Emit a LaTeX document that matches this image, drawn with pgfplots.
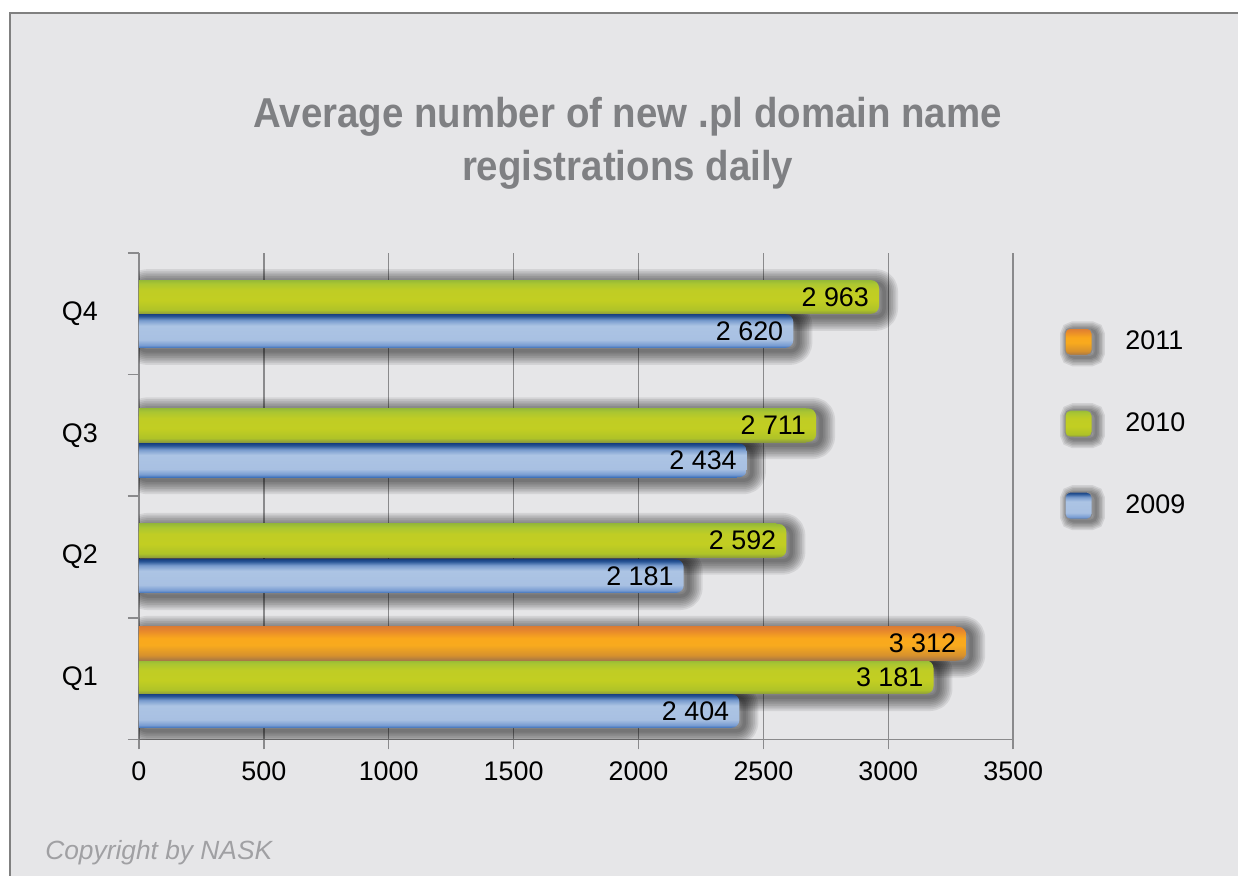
\documentclass[border=0pt]{standalone}
\usepackage{fontspec}
\setmainfont{Liberation Sans}
\usepackage{graphicx}
\usepackage{pgfplots}
\pgfplotsset{compat=1.18}
\usepackage{pgfplotstable}

\definecolor{bgc}{RGB}{230,230,232}
\definecolor{bordc}{RGB}{128,128,128}
\definecolor{titlec}{RGB}{127,128,131}
\definecolor{copyc}{RGB}{160,160,163}
\definecolor{gridc}{RGB}{138,138,140}
% blue (2009)
\definecolor{bA}{RGB}{60,112,185}
\definecolor{bB}{RGB}{120,156,210}
\definecolor{bC}{RGB}{168,192,226}
\definecolor{bD}{RGB}{172,196,228}
\definecolor{bE}{RGB}{120,155,205}
\definecolor{bF}{RGB}{40,85,150}
\definecolor{bG}{RGB}{25,65,130}
% green (2010)
\definecolor{gA}{RGB}{140,155,60}
\definecolor{gB}{RGB}{175,195,40}
\definecolor{gC}{RGB}{194,206,34}
\definecolor{gD}{RGB}{192,205,36}
\definecolor{gE}{RGB}{170,198,50}
\definecolor{gF}{RGB}{150,185,55}
% orange (2011)
\definecolor{oA}{RGB}{165,118,70}
\definecolor{oB}{RGB}{215,145,45}
\definecolor{oC}{RGB}{248,170,30}
\definecolor{oD}{RGB}{250,168,28}
\definecolor{oE}{RGB}{230,135,45}
\definecolor{oF}{RGB}{220,125,50}

\pgfdeclareverticalshading{shA}{100bp}{color(0bp)=(bA); color(25bp)=(bA); color(29bp)=(bB); color(37bp)=(bC); color(58bp)=(bD); color(66bp)=(bE); color(72bp)=(bF); color(75bp)=(bG); color(100bp)=(bG)}
\pgfdeclareverticalshading{shB}{100bp}{color(0bp)=(gA); color(25bp)=(gA); color(31bp)=(gB); color(45bp)=(gC); color(60bp)=(gD); color(70bp)=(gE); color(75bp)=(gF); color(100bp)=(gF)}
\pgfdeclareverticalshading{shC}{100bp}{color(0bp)=(oA); color(25bp)=(oA); color(33bp)=(oB); color(48bp)=(oC); color(58bp)=(oD); color(70bp)=(oE); color(75bp)=(oF); color(100bp)=(oF)}

\newcommand\lbl{\fontsize{15.3}{18}\selectfont}
\newcommand\titlefont{\fontsize{23.8}{28}\selectfont\bfseries}
\newcommand\copyfont{\fontsize{15}{18}\selectfont\itshape}

% 2009
\pgfplotstableread{
v y
2404 0.234
2181 1.342
2434 2.294
2620 3.357
}\tblA
% 2010
\pgfplotstableread{
v y
3181 0.512
2592 1.633
2711 2.583
2963 3.637
}\tblB
% 2011
\pgfplotstableread{
v y
3312 0.787
}\tblC

\tikzset{
  sstroke/.style={preaction={draw=black, draw opacity=0.09, line width=#1}},
  shadowstrokes/.style={rounded corners=0.1cm,
    sstroke=0.36cm, sstroke=0.30cm, sstroke=0.24cm, sstroke=0.18cm, sstroke=0.12cm,
    draw=black, draw opacity=0.09, line width=0.06cm},
}
\newcommand\legimg[1]{%
  \begin{pgfinterruptboundingbox}
    \path[shadowstrokes] (0.08cm,-0.31cm) rectangle (0.62cm,0.23cm);
  \end{pgfinterruptboundingbox}
  \path[draw=gridc, line width=0.02cm, rounded corners=0.1cm, shade, shading=#1] (0cm,-0.27cm) rectangle (0.54cm,0.27cm);}

\pgfplotsset{
  barbase/.style={xbar, bar width=0.277, bar shift=0pt, forget plot},
  shadowk/.style={barbase, draw=black, fill=none, draw opacity=0.08, line width=#1,
    line join=round, rounded corners=0.16cm,
    x filter/.expression={x+20}, y filter/.expression={y-0.025}},
  roundpass/.style={barbase, draw=none, shade, shading=#1, rounded corners=0.16cm,
    point meta=x,
    nodes near coords={\pgfmathprintnumber[1000 sep={\ }]{\pgfplotspointmeta}},
    every node near coord/.append style={anchor=east, xshift=-0.08cm, font=\lbl, text=black}},
  squarepass/.style={barbase, draw=none, shade, shading=#1, x filter/.expression={x-40}},
}
% one bar = row #3 of table #1 (rows #3 <= i < #4), shaded with #2
\newcommand\onebar[4]{%
  \addplot[roundpass=#2, skip coords between index={0}{#3}, skip coords between index={#4}{99}] table[x=v,y=y] {#1};
  \addplot[squarepass=#2, skip coords between index={0}{#3}, skip coords between index={#4}{99}] table[x=v,y=y] {#1};
}

\begin{document}
\begin{tikzpicture}
\useasboundingbox (-2.78,-2.72) rectangle (22.0,14.8);
\clip (-2.78,-2.72) rectangle (22.0,14.8);
\begin{scope}[shift={(-2.78cm,14.8cm)}, x=0.02cm, y=-0.02cm]
  \fill[white] (0,0) rectangle (1238,876);
  \filldraw[fill=bgc, draw=bordc, line width=0.03cm] (10,13) rectangle (1260,900);
\end{scope}

\begin{axis}[
  at={(0,0)}, anchor=south west,
  scale only axis, width=17.5cm, height=9.74cm,
  xmin=0, xmax=3500, ymin=0, ymax=4,
  axis x line*=bottom, axis y line*=left,
  xtick={0,500,...,3500},
  ytick={0.5,1.5,2.5,3.5}, yticklabels={Q1,Q2,Q3,Q4},
  minor ytick={0,1,2,3,4},
  xmajorgrids,
  grid style={draw=gridc, line width=0.03cm},
  axis line style={draw=gridc, line width=0.03cm},
  tick align=outside,
  major tick length=0.2cm, minor tick length=0.22cm,
  major y tick style={draw=none},
  minor y tick style={draw=gridc, line width=0.03cm},
  major x tick style={draw=gridc, line width=0.03cm},
  tick label style={font=\lbl},
  /pgf/number format/assume math mode=true,
  /pgf/number format/1000 sep={},
  yticklabel style={xshift=-0.5cm},
  xticklabel style={yshift=-0.12cm},
  legend cell align=left,
  legend style={at={(1.0583,0.8466)}, anchor=north west, draw=none, fill=none,
    inner sep=0pt, font=\lbl, row sep=1.08cm, nodes={inner sep=0pt},
    /tikz/every odd column/.append style={column sep=0.66cm}},
]
\addlegendimage{legend image code/.code={\legimg{shC}}}
\addlegendentry{2011}
\addlegendimage{legend image code/.code={\legimg{shB}}}
\addlegendentry{2010}
\addlegendimage{legend image code/.code={\legimg{shA}}}
\addlegendentry{2009}

% soft shadows (stacked translucent strokes)
\pgfplotsinvokeforeach{0.56,0.49,0.42,0.35,0.28,0.21,0.14,0.07}{
  \addplot[shadowk=#1cm] table[x=v,y=y] {\tblA};
  \addplot[shadowk=#1cm] table[x=v,y=y] {\tblB};
  \addplot[shadowk=#1cm] table[x=v,y=y] {\tblC};
}
% bars, each shaded on its own
\onebar{\tblA}{shA}{0}{1}
\onebar{\tblA}{shA}{1}{2}
\onebar{\tblA}{shA}{2}{3}
\onebar{\tblA}{shA}{3}{4}
\onebar{\tblB}{shB}{0}{1}
\onebar{\tblB}{shB}{1}{2}
\onebar{\tblB}{shB}{2}{3}
\onebar{\tblB}{shB}{3}{4}
\onebar{\tblC}{shC}{0}{1}
\end{axis}

\begin{scope}[shift={(-2.78cm,14.8cm)}, x=0.02cm, y=-0.02cm]
  \node[anchor=base, text=titlec, font=\titlefont, inner sep=0pt] at (628,128) {\scalebox{0.92}[1]{Average number of new .pl domain name}};
  \node[anchor=base, text=titlec, font=\titlefont, inner sep=0pt] at (628,181) {\scalebox{0.92}[1]{registrations daily}};
  \node[anchor=base west, text=copyc, font=\copyfont, inner sep=0pt] at (45,860) {Copyright by NASK};
\end{scope}
\end{tikzpicture}
\end{document}
